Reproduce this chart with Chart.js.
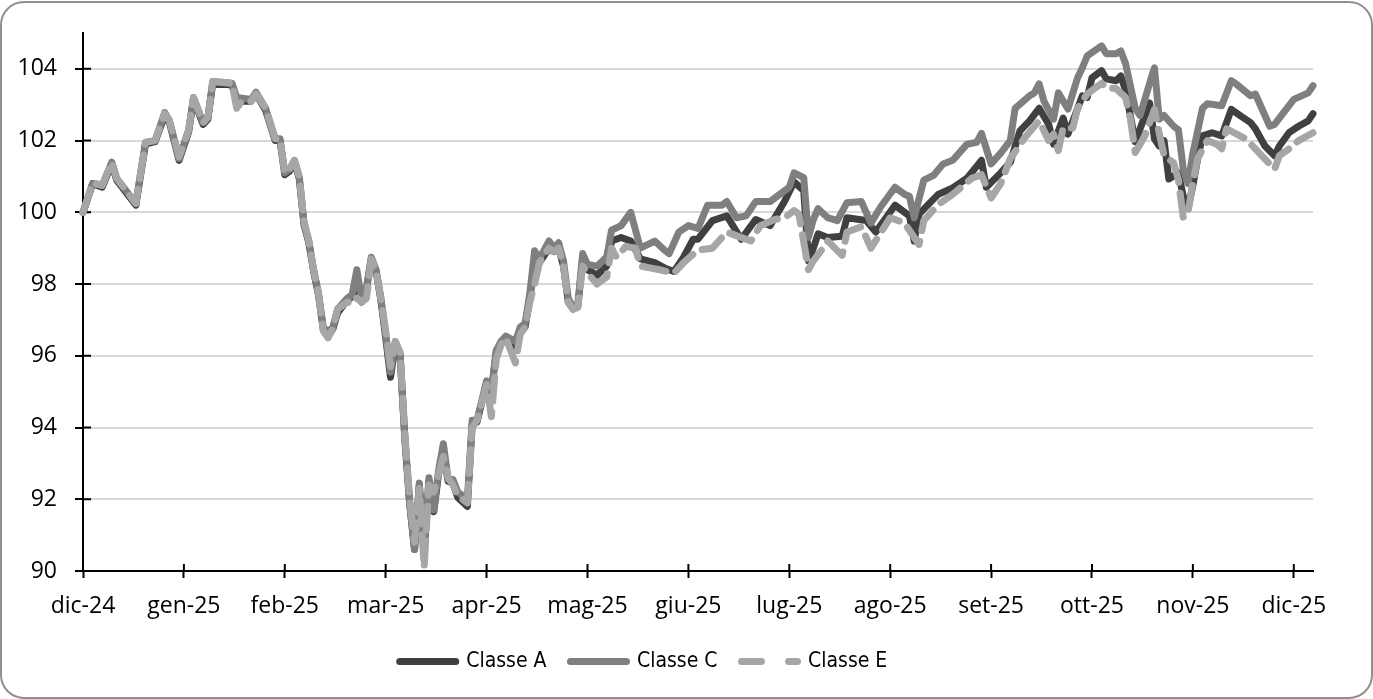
<!DOCTYPE html>
<html lang="it">
<head>
  <meta charset="UTF-8" />
  <title>Classe A / C / E</title>
  <script src="https://cdn.jsdelivr.net/npm/chart.js"></script>
  <style>
    body { margin: 0; overflow: hidden; background: #fff; }
    #wrap { position: relative; width: 1373px; height: 699px; overflow: hidden; }
    canvas { position: absolute; left: -26px; top: 0; }
    #frame {
      position: absolute; left: 0; top: 1px;
      width: 1373px; height: 698px;
      box-sizing: border-box;
      border: 2px solid #8f8f8f;
      border-radius: 24px;
      pointer-events: none;
    }
  </style>
</head>
<body>
  <div id="wrap">
    <canvas id="chart" width="1399" height="699"></canvas>
    <div id="frame"></div>
  </div>

  <script>
    // etichette dei mesi (un tick ogni 21 giorni di borsa)
    const months = ['dic-24', 'gen-25', 'feb-25', 'mar-25', 'apr-25', 'mag-25', 'giu-25',
                    'lug-25', 'ago-25', 'set-25', 'ott-25', 'nov-25', 'dic-25'];
    const daysPerMonth = 21;
    const lastDay = 256;

    // Classe A
    const aDays = [
      0, 2, 4, 6, 7, 11, 13, 15, 17, 18, 20,
      22, 23, 25, 26, 27, 31, 32, 35, 36, 38, 40, 41,
      42, 43, 44, 45, 46, 47, 48, 49, 50, 51, 52, 53, 55, 56, 57, 58, 59, 60, 61, 62,
      63, 64, 65, 66, 67, 68, 69, 70, 71, 72, 73, 74, 75, 76, 77, 78, 80, 81, 82,
      84, 85, 86, 87, 88, 90, 91, 92, 93, 94, 95, 97, 98, 99, 100, 101, 102, 103, 104,
      105, 107, 109, 110, 112, 114, 116, 119, 121, 123, 125,
      127, 128, 131, 134, 137, 140, 143, 146, 148,
      150, 151, 152, 153, 155, 158, 159, 163, 165,
      169, 172, 173, 174, 176, 178, 181, 184, 187, 188,
      191, 193, 195, 197, 199, 201, 202, 204, 205, 208, 209,
      210, 212, 213, 215, 216, 217, 219, 220, 222, 223, 224, 225, 226, 228, 229, 230,
      231, 232, 233, 235, 237, 239, 241, 243, 244, 246, 248, 249, 251,
      253, 255, 256
    ];
    const aVals = [
      100.0, 100.8, 100.7, 101.35, 100.9, 100.2, 101.9, 101.97, 102.7, 102.5, 101.45,
      102.25, 103.15, 102.45, 102.6, 103.6, 103.55, 103.1, 103.1, 103.3, 102.85, 102.0, 102.0,
      101.05, 101.15, 101.4, 100.95, 99.65, 99.15, 98.35, 97.7, 96.75, 96.7, 96.75, 97.2, 97.55, 97.65, 97.8, 97.5, 97.85, 98.7, 98.35, 97.55,
      96.5, 95.4, 96.3, 96.0, 93.65, 91.85, 90.6, 92.4, 90.55, 92.5, 91.65, 92.7, 93.3, 92.5, 92.45, 92.05, 91.8, 94.1, 94.15,
      95.25, 95.0, 96.1, 96.35, 96.5, 96.2, 96.7, 96.8, 97.6, 98.6, 98.6, 99.0, 98.9, 99.0, 98.5, 97.5, 97.3, 97.4, 98.7,
      98.4, 98.25, 98.5, 99.2, 99.3, 99.2, 98.7, 98.6, 98.45, 98.35, 98.75,
      99.25, 99.25, 99.77, 99.9, 99.25, 99.8, 99.63, 100.3, 100.85,
      100.6, 98.65, 99.0, 99.4, 99.3, 99.33, 99.85, 99.77, 99.45,
      100.2, 99.9, 99.2, 99.95, 100.23, 100.5, 100.68, 100.95, 101.45, 100.7,
      101.1, 101.4, 102.27, 102.55, 102.9, 102.45, 101.9, 102.63, 102.18, 103.25, 103.2,
      103.75, 103.95, 103.72, 103.67, 103.8, 103.4, 101.97, 102.32, 103.05, 102.05, 101.85, 102.0, 100.93, 101.1, 100.45, 100.13,
      100.75, 101.5, 102.13, 102.22, 102.13, 102.87, 102.68, 102.5, 102.33, 101.85, 101.58, 101.85, 102.22,
      102.4, 102.55, 102.75
    ];

    // Classe C
    const cDays = [
      0, 2, 4, 6, 7, 11, 13, 15, 17, 18, 20,
      22, 23, 25, 26, 27, 31, 32, 35, 36, 38, 40, 41,
      42, 43, 44, 45, 46, 47, 48, 49, 50, 51, 52, 53, 55, 56, 57, 58, 59, 60, 61, 62,
      63, 64, 65, 66, 67, 68, 69, 70, 71, 72, 73, 74, 75, 76, 77, 78, 80, 81, 82,
      84, 85, 86, 87, 88, 90, 91, 92, 93, 94, 95, 97, 98, 99, 100, 101, 102, 103, 104,
      105, 107, 109, 110, 112, 114, 116, 119, 121, 122, 124,
      126, 128, 130, 133, 134, 136, 138, 140, 143, 145, 147,
      148, 150, 151, 152, 153, 155, 157, 159, 162, 164, 166,
      169, 171, 172, 173, 175, 177, 179, 181, 184, 186, 187,
      189, 191, 193, 194, 197, 198, 199, 200, 202, 203, 205, 207, 208, 209,
      212, 213, 215, 216, 217, 219, 220, 222, 223, 224, 225, 227, 228, 229, 230,
      231, 233, 234, 237, 239, 240, 243, 244, 247, 248, 250,
      252, 255, 256
    ];
    const cVals = [
      100.0, 100.8, 100.75, 101.4, 100.95, 100.25, 101.95, 102.0, 102.78, 102.55, 101.5,
      102.3, 103.2, 102.5, 102.65, 103.65, 103.6, 103.2, 103.15, 103.35, 102.9, 102.05, 102.05,
      101.1, 101.2, 101.45, 101.0, 99.7, 99.2, 98.4, 97.75, 96.8, 96.6, 96.8, 97.3, 97.6, 97.7, 98.4, 97.55, 97.9, 98.75, 98.4, 97.6,
      96.6, 95.55, 96.4, 96.05, 93.7, 91.9, 90.6, 92.45, 90.6, 92.6, 91.7, 92.8, 93.55, 92.55, 92.55, 92.2, 92.0, 94.2, 94.2,
      95.3, 95.0, 96.15, 96.4, 96.55, 96.4, 96.8, 96.9, 97.75, 98.93, 98.7, 99.2, 99.0, 99.15, 98.65, 97.6, 97.35, 97.45, 98.85,
      98.55, 98.5, 98.75, 99.5, 99.63, 100.0, 99.0, 99.2, 98.95, 98.85, 99.45,
      99.63, 99.55, 100.2, 100.2, 100.3, 99.85, 99.9, 100.3, 100.3, 100.5, 100.7,
      101.1, 100.97, 99.3, 99.8, 100.1, 99.85, 99.77, 100.27, 100.3, 99.7, 100.15,
      100.7, 100.5, 100.45, 99.85, 100.9, 101.03, 101.35, 101.45, 101.9, 101.95, 102.2,
      101.35, 101.65, 102.0, 102.9, 103.25, 103.33, 103.58, 103.1, 102.6, 103.33, 102.88, 103.75, 104.03, 104.36,
      104.64, 104.42, 104.42, 104.5, 104.14, 102.9, 102.7, 103.6, 104.03, 102.6, 102.7, 102.4, 102.3, 101.2, 100.8,
      101.65, 102.9, 103.03, 102.97, 103.67, 103.58, 103.25, 103.3, 102.4, 102.45, 102.8,
      103.15, 103.33, 103.53
    ];

    // Classe E
    const eDays = [
      0, 2, 4, 6, 7, 11, 13, 15, 17, 18, 20,
      22, 23, 25, 26, 27, 31, 32, 33, 35, 36, 38, 40, 41,
      42, 43, 44, 45, 46, 47, 48, 49, 50, 51, 52, 53, 55, 56, 57, 58, 59, 60, 61, 62,
      63, 64, 65, 66, 67, 68, 69, 70, 71, 72, 73, 74, 75, 76, 77, 78, 80, 81, 82,
      84, 85, 86, 87, 88, 90, 91, 92, 93, 94, 95, 97, 98, 99, 100, 101, 102, 103, 104,
      105, 107, 109, 110, 111, 113, 115, 116, 118, 120, 123, 125,
      128, 131, 134, 135, 139, 141, 144, 146, 148,
      149, 151, 152, 154, 155, 158, 159, 162, 164, 168,
      171, 174, 175, 178, 181, 185, 187, 189,
      191, 193, 196, 199, 201, 202, 203, 204, 206, 207, 209,
      212, 213, 215, 217, 218, 219, 221, 223, 224, 225, 227, 228, 229, 230,
      231, 232, 234, 236, 237, 238, 242, 244, 248, 249, 251,
      253, 256
    ];
    const eVals = [
      100.0, 100.83, 100.75, 101.4, 100.95, 100.25, 101.95, 102.0, 102.75, 102.55, 101.55,
      102.3, 103.2, 102.5, 102.65, 103.65, 103.6, 102.9, 103.1, 103.1, 103.3, 102.9, 102.05, 102.05,
      101.1, 101.2, 101.45, 101.0, 99.75, 99.2, 98.4, 97.75, 96.7, 96.5, 96.75, 97.3, 97.5, 97.45, 97.6, 97.5, 97.6, 98.7, 98.35, 97.6,
      96.7, 95.7, 96.4, 96.1, 93.8, 92.0, 90.8, 92.3, 90.1, 92.4, 92.2, 92.7, 93.2, 92.6, 92.4, 92.1, 91.9, 94.0, 94.2,
      95.2, 94.3, 95.9, 96.3, 96.5, 95.8, 96.6, 96.8, 97.5, 98.0, 98.6, 99.0, 98.9, 99.0, 98.5, 97.5, 97.3, 97.35, 98.5,
      98.3, 98.0, 98.2, 99.0, 98.75, 99.05, 99.0, 98.5, 98.45, 98.4, 98.3, 98.6,
      98.95, 99.0, 99.45, 99.4, 99.2, 99.63, 99.8, 99.85, 100.05,
      99.95, 98.4, 98.65, 99.0, 99.2, 98.8, 99.45, 99.6, 99.0, 99.85,
      99.7, 99.1, 99.77, 100.22, 100.5, 100.95, 101.05, 100.4,
      100.8, 101.5, 102.08, 102.55, 102.0, 102.18, 101.72, 102.35, 102.35, 102.9, 103.3,
      103.6, 103.47, 103.45, 103.2, 102.6, 101.67, 102.13, 102.87, 102.2, 101.58, 101.38, 100.9, 99.85, 100.0,
      100.83, 101.5, 102.0, 101.9, 101.77, 102.33, 102.05, 101.77, 101.2, 101.58, 101.77,
      102.0, 102.22
    ];

    function points(days, vals) {
      if (days.length !== vals.length) console.warn('lunghezze diverse', days.length, vals.length);
      return days.map((d, i) => ({ x: d, y: vals[i] }));
    }

    const font = "'Open Sans', 'Liberation Sans', sans-serif";
    const narrow = "'DejaVu Sans Condensed', 'Liberation Sans Narrow', sans-serif";

    // tacche dentro l'area del grafico (le tacche attraversano l'asse)
    const innerTicks = {
      id: 'innerTicks',
      beforeDatasetsDraw(chart) {
        const { ctx, chartArea, scales } = chart;
        ctx.save();
        ctx.strokeStyle = '#000';
        ctx.lineWidth = 2;
        ctx.beginPath();
        scales.y.ticks.forEach(t => {
          const y = scales.y.getPixelForValue(t.value);
          ctx.moveTo(chartArea.left, y);
          ctx.lineTo(chartArea.left + 8, y);
        });
        scales.x.ticks.forEach(t => {
          const x = scales.x.getPixelForValue(t.value);
          ctx.moveTo(x, chartArea.bottom);
          ctx.lineTo(x, chartArea.bottom - 7);
        });
        ctx.stroke();
        ctx.restore();
      }
    };

    const common = {
      borderWidth: 7,
      pointRadius: 0,
      borderCapStyle: 'round',
      borderJoinStyle: 'round',
      fill: false,
      tension: 0,
      clip: false
    };

    new Chart(document.getElementById('chart'), {
      type: 'line',
      data: {
        datasets: [
          { ...common, label: 'Classe A', data: points(aDays, aVals), borderColor: '#404040', backgroundColor: '#404040', order: 2 },
          { ...common, label: 'Classe C', data: points(cDays, cVals), borderColor: '#7f7f7f', backgroundColor: '#7f7f7f', order: 1 },
          { ...common, label: 'Classe E', data: points(eDays, eVals), borderColor: '#a6a6a6', backgroundColor: '#a6a6a6', borderDash: [24, 11], order: 0 }
        ]
      },
      options: {
        responsive: false,
        animation: false,
        devicePixelRatio: 1,
        layout: { padding: { top: 33, right: 60, left: 0, bottom: 17 } },
        scales: {
          x: {
            type: 'linear',
            min: 0,
            max: lastDay,
            afterFit: s => { s.height = 56; },
            afterBuildTicks: s => { s.ticks = months.map((m, i) => ({ value: i * daysPerMonth })); },
            ticks: {
              autoSkip: false,
              maxRotation: 0,
              padding: 15,
              color: '#000',
              font: { family: font, size: 23 },
              callback: v => months[Math.round(v / daysPerMonth)]
            },
            grid: { drawOnChartArea: false, drawTicks: true, tickLength: 7, tickColor: '#000', tickWidth: 2 },
            border: { color: '#000', width: 2 }
          },
          y: {
            min: 90,
            max: 105,
            afterFit: s => { s.width = 109; },
            afterBuildTicks: s => { s.ticks = s.ticks.filter(t => t.value <= 104); },
            ticks: {
              stepSize: 2,
              padding: 18,
              color: '#000',
              font: { family: font, size: 23 }
            },
            grid: {
              color: c => (c.tick && c.tick.value === 90) ? 'rgba(0,0,0,0)' : '#d1d9e6',
              lineWidth: 2,
              tickLength: 8,
              tickColor: '#000',
              tickWidth: 2
            },
            border: { color: '#000', width: 2 }
          }
        },
        plugins: {
          tooltip: { enabled: false },
          legend: {
            position: 'bottom',
            labels: {
              usePointStyle: true,
              pointStyle: 'line',
              pointStyleWidth: 56,
              padding: 24,
              color: '#000',
              font: { family: narrow, size: 21 },
              sort: (a, b) => a.datasetIndex - b.datasetIndex,
              generateLabels(chart) {
                const items = Chart.defaults.plugins.legend.labels.generateLabels(chart);
                items.forEach(it => {
                  it.lineCap = 'round';
                  if (it.datasetIndex === 2) it.lineDash = [20, 27];
                });
                return items;
              }
            }
          }
        }
      },
      plugins: [innerTicks]
    });
  </script>
</body>
</html>
